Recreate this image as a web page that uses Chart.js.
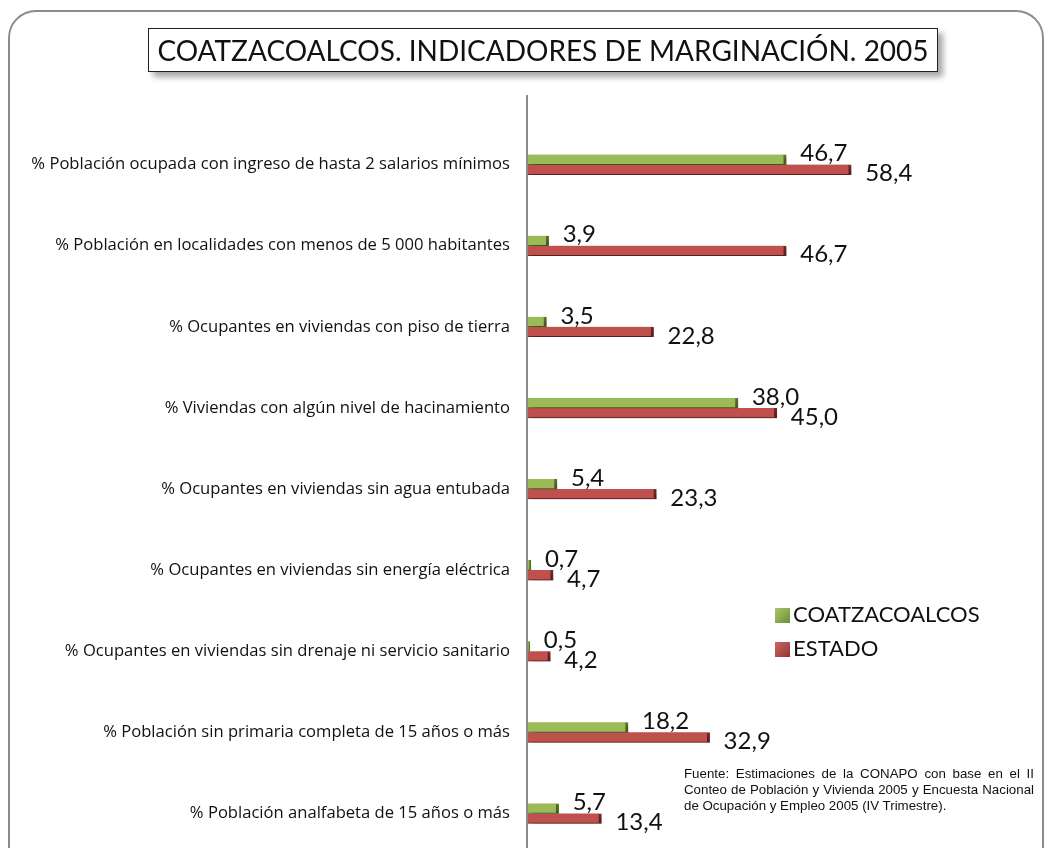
<!DOCTYPE html>
<html>
<head>
<meta charset="utf-8">
<script src="https://cdn.jsdelivr.net/npm/chart.js@4.4.1/dist/chart.umd.min.js"></script>
<style>
  html, body { margin: 0; padding: 0; background: #fff; overflow: hidden; }
  #wrap { position: relative; width: 1056px; height: 848px; overflow: hidden; }
  #frame {
    position: absolute; left: 8px; top: 10px; width: 1036px; height: 880px;
    border: 2px solid #8c8c8c; border-radius: 28px; box-sizing: border-box;
  }
  #title {
    position: absolute; left: 148px; top: 28px; width: 790px; height: 44px;
    border: 1.5px solid #222; box-sizing: border-box; background: #fff;
    box-shadow: 5px 5px 6px rgba(0,0,0,0.35);
    font-family: Lato, sans-serif; font-size: 28px; line-height: 42px;
    text-align: center; color: #111; white-space: nowrap;
  }
  #legend {
    position: absolute; left: 775px; top: 597px;
    font-family: Lato, sans-serif; font-size: 22px; color: #111;
  }
  #legend div { height: 34px; line-height: 34px; white-space: nowrap; }
  #legend span.sw {
    display: inline-block; width: 15px; height: 15px; margin-right: 3px; vertical-align: -1px;
  }
  #note {
    position: absolute; left: 684px; top: 766px; width: 350px;
    font-family: "Liberation Sans", Arial, sans-serif; font-size: 13.3px; line-height: 16px;
    color: #111;
  }
  #note div { text-align: justify; text-align-last: justify; white-space: nowrap; }
  #note div:last-child { text-align-last: left; }
  canvas { position: absolute; left: 0; top: 0; }
</style>
</head>
<body>
<div id="wrap">
  <div id="frame"></div>
  <canvas id="chart" width="1056" height="880"></canvas>
  <div id="title">COATZACOALCOS. INDICADORES DE MARGINACIÓN. 2005</div>
  <div id="legend">
    <div><span class="sw" style="background:linear-gradient(135deg,#a9c86a,#6f8c35)"></span>COATZACOALCOS</div>
    <div><span class="sw" style="background:linear-gradient(135deg,#d06663,#8f3431)"></span>ESTADO</div>
  </div>
  <div id="note">
    <div>Fuente: Estimaciones de la CONAPO con base en el II</div>
    <div>Conteo de Población y Vivienda 2005 y Encuesta Nacional</div>
    <div>de Ocupación y Empleo 2005 (IV Trimestre).</div>
  </div>
</div>
<script>
const categories = [
  '% Población ocupada con ingreso de hasta 2 salarios mínimos',
  '% Población en localidades con menos de 5 000 habitantes',
  '% Ocupantes en viviendas con piso de tierra',
  '% Viviendas con algún nivel de hacinamiento',
  '% Ocupantes en viviendas sin agua entubada',
  '% Ocupantes en viviendas sin energía eléctrica',
  '% Ocupantes en viviendas sin drenaje ni servicio sanitario',
  '% Población sin primaria completa de 15 años o más',
  '% Población analfabeta de 15 años o más'
];
const coatzacoalcos = [46.7, 3.9, 3.5, 38.0, 5.4, 0.7, 0.5, 18.2, 5.7];
const estado = [58.4, 46.7, 22.8, 45.0, 23.3, 4.7, 4.2, 32.9, 13.4];

function fmt(v) { return v.toFixed(1).replace('.', ','); }

// vertical gradient per bar for the bevelled look
function bevel(light, mid, dark) {
  return (c) => {
    const el = c.element;
    if (!el || el.y == null || !isFinite(el.y)) return mid;
    const g = c.chart.ctx.createLinearGradient(0, el.y - 5, 0, el.y + 5);
    g.addColorStop(0, light);
    g.addColorStop(0.45, mid);
    g.addColorStop(1, dark);
    return g;
  };
}

const valueLabels = {
  id: 'valueLabels',
  afterDatasetsDraw(chart) {
    const ctx = chart.ctx;
    ctx.save();
    ctx.font = '24px Lato, sans-serif';
    ctx.fillStyle = '#111';
    ctx.textAlign = 'left';
    ctx.textBaseline = 'middle';
    chart.data.datasets.forEach((ds, di) => {
      const meta = chart.getDatasetMeta(di);
      meta.data.forEach((bar, i) => {
        const dy = di === 0 ? -6 : 4;
        ctx.fillText(fmt(ds.data[i]), bar.x + 14, bar.y + dy);
      });
    });
    ctx.restore();
  }
};

const barShadow = {
  id: 'barShadow',
  beforeDatasetsDraw(chart) {
    const ctx = chart.ctx;
    ctx.save();
    ctx.shadowColor = 'rgba(0,0,0,0.35)';
    ctx.shadowBlur = 6;
    ctx.shadowOffsetX = 4;
    ctx.shadowOffsetY = 4;
  },
  afterDatasetsDraw(chart) {
    chart.ctx.restore();
  }
};

const axisLine = {
  id: 'axisLine',
  afterDraw(chart) {
    const ctx = chart.ctx;
    const x = chart.scales.x.getPixelForValue(0);
    ctx.save();
    ctx.strokeStyle = '#8a8a8a';
    ctx.lineWidth = 2;
    ctx.beginPath();
    ctx.moveTo(x, 95);
    ctx.lineTo(x, chart.height);
    ctx.stroke();
    ctx.restore();
  }
};

new Chart(document.getElementById('chart'), {
  type: 'bar',
  data: {
    labels: categories,
    datasets: [
      {
        label: 'COATZACOALCOS',
        data: coatzacoalcos,
        backgroundColor: bevel('#b5d27a', '#9bbb59', '#7f9c42'),
        borderColor: '#5f7a2a',
        borderWidth: { top: 0, bottom: 1, left: 0, right: 3 },
        borderSkipped: 'left',
        barThickness: 10,
        categoryPercentage: 0.35
      },
      {
        label: 'ESTADO',
        data: estado,
        backgroundColor: bevel('#d97673', '#c0504d', '#a23c39'),
        borderColor: '#7a2b28',
        borderWidth: { top: 0, bottom: 1, left: 0, right: 3 },
        borderSkipped: 'left',
        barThickness: 10,
        categoryPercentage: 0.35
      }
    ]
  },
  options: {
    indexAxis: 'y',
    responsive: false,
    animation: false,
    layout: { padding: { left: 10, top: 124, bottom: 26, right: 0 } },
    plugins: {
      legend: { display: false },
      tooltip: { enabled: false }
    },
    scales: {
      x: {
        display: false,
        min: 0,
        max: 95.3
      },
      y: {
        grid: { display: false },
        border: { display: false },
        afterFit(s) { s.width = 517; },
        ticks: {
          font: { size: 16.6, family: 'Open Sans' },
          color: '#111',
          padding: 9
        }
      }
    }
  },
  plugins: [barShadow, valueLabels, axisLine]
});
</script>
</body>
</html>
